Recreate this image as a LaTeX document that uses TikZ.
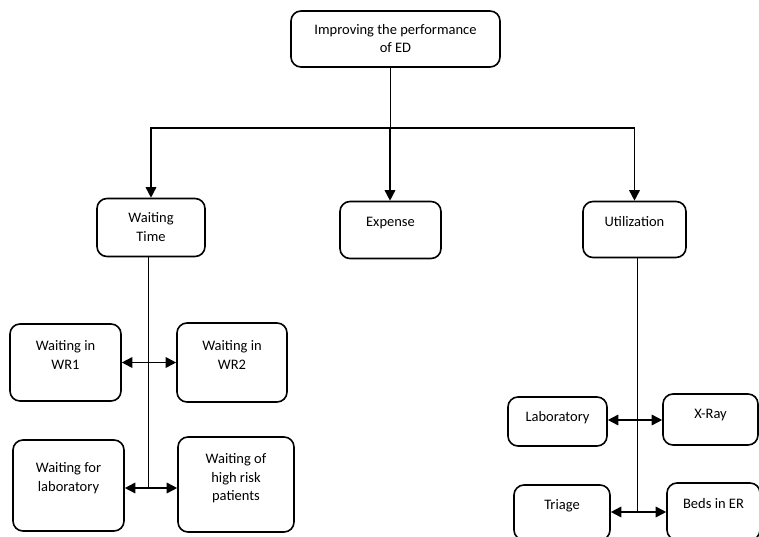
\documentclass[tikz,border=0pt]{standalone}
\usepackage{fontspec}
\setmainfont{Carlito}
\usetikzlibrary{arrows.meta,positioning}

\begin{document}
\begin{tikzpicture}[x=1pt, y=-1pt,
  box/.style={draw, rounded corners=10pt, line width=1.6pt, align=center, inner sep=2pt, text height=9pt, font=\fontsize{14.5}{18.5}\selectfont},
  twoline/.style={text height=27.5pt},
  main/.style={line width=1.6pt, -{Triangle[length=10.5pt,width=10.5pt]}},
  spine/.style={line width=0.8pt},
  link/.style={line width=1.7pt, {Triangle[length=10.5pt,width=10.5pt]}-{Triangle[length=10.5pt,width=10.5pt]}}]
\clip (0,0) rectangle (759,537);
% Goal
\node[box, twoline, text depth=0pt, minimum width=209pt, minimum height=56pt] (goal) at (395.5,39) {Improving the performance\\of ED};
\coordinate (bus) at (390,128);
% Criteria
\node[box, twoline, text depth=0pt, minimum width=108pt, minimum height=58pt] (wt) at (151,227.5) {Waiting\\Time};
\node[box, text depth=16pt, minimum width=101pt, minimum height=57pt] (exp) at (390.5,230) {Expense};
\node[box, text depth=16pt, minimum width=103pt, minimum height=56pt] (util) at (634.5,229.5) {Utilization};
\draw[spine] (goal.south -| bus) -- (bus);
\draw[main] (bus) -| (wt.north);
\draw[main] (bus) -- (bus |- exp.north);
\draw[main] (bus) -| (util.north);
% Waiting time
\node[box, twoline, text depth=14pt, minimum width=111pt, minimum height=77pt] (wr1) at (65.5,362.5) {Waiting in\\WR1};
\node[box, twoline, text depth=14pt, minimum width=110pt, minimum height=79pt] (wr2) at (232,362.5) {Waiting in\\WR2};
\node[box, twoline, text depth=16pt, minimum width=111pt, minimum height=91pt] (wfl) at (68.5,485.5) {Waiting for\\laboratory};
\node[box, text height=46pt, text depth=14pt, minimum width=116pt, minimum height=95pt] (whr) at (236,484.5) {Waiting of\\high risk\\patients};
\coordinate (wtend) at (148,488);
\draw[spine] (wt.south -| wtend) -- (wtend);
\draw[link] (wr1.east) -- (wr2.west);
\draw[link] (wfl.east |- wtend) -- (whr.west |- wtend);
% Utilization
\node[box, text depth=9pt, minimum width=99pt, minimum height=49pt] (lab) at (557.5,421.5) {Laboratory};
\node[box, text depth=11pt, minimum width=95pt, minimum height=51pt] (xray) at (710.5,419.5) {X-Ray};
\node[box, text depth=16pt, minimum width=96pt, minimum height=55pt] (tri) at (562,512.5) {Triage};
\node[box, text depth=16pt, minimum width=93pt, minimum height=57pt] (beds) at (713.5,511.5) {Beds in ER};
\coordinate (utend) at (637,512);
\draw[spine] (util.south -| utend) -- (utend);
\draw[link] (lab.east |- 0,420) -- (xray.west |- 0,420);
\draw[link] (tri.east |- utend) -- (beds.west |- utend);
\end{tikzpicture}
\end{document}
